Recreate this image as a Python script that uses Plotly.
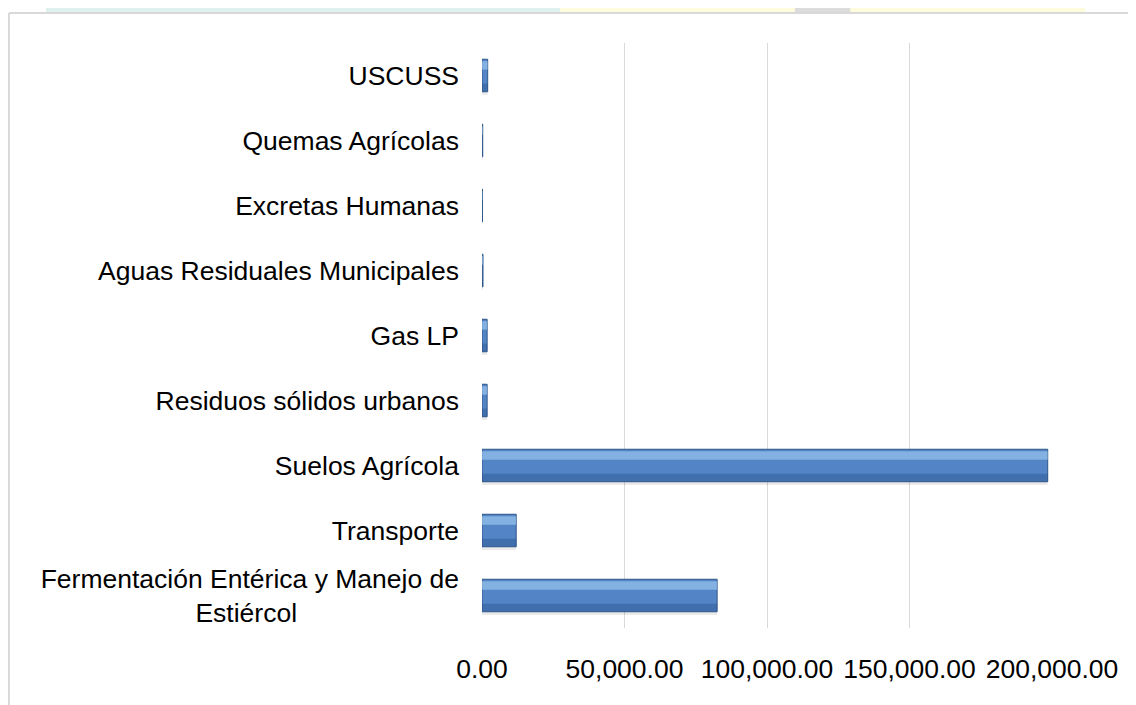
import plotly.graph_objects as go

# categories listed bottom to top, as drawn on the y axis
CATEGORIES = [
    "Fermentación Entérica y Manejo de<br>Estiércol" + "\u00a0" * 22,
    "Transporte",
    "Suelos Agrícola",
    "Residuos sólidos urbanos",
    "Gas LP",
    "Aguas Residuales Municipales",
    "Excretas Humanas",
    "Quemas Agrícolas",
    "USCUSS",
]
EMISSIONS = [82500, 12000, 198500, 1800, 1800, 350, 150, 250, 2000]
TICK_VALS = [0, 50000, 100000, 150000, 200000]

COLOR_BAR = "#5284c6"
COLOR_BAR_LINE = "#2f5688"
COLOR_HIGHLIGHT = "rgba(170, 215, 250, 0.55)"
COLOR_SHADE = "rgba(35, 70, 125, 0.35)"
COLOR_SHADOW = "rgba(0, 0, 0, 0.08)"
COLOR_GRID = "#d9d9d9"
FONT_FAMILY = "Liberation Sans, Arial"
FONT_SIZE = 26.5

fig = go.Figure()

# soft shadow under each bar
fig.add_trace(go.Bar(x=EMISSIONS, y=CATEGORIES, orientation="h",
                     width=0.05, offset=-0.3,
                     marker=dict(color=COLOR_SHADOW, line=dict(width=0)),
                     hoverinfo="skip"))
# main bar body
fig.add_trace(go.Bar(x=EMISSIONS, y=CATEGORIES, orientation="h",
                     width=0.5, offset=-0.25,
                     marker=dict(color=COLOR_BAR, line=dict(color=COLOR_BAR_LINE, width=1)),
                     hoverinfo="x+y"))
# light band in the upper part of each bar (bevel look)
fig.add_trace(go.Bar(x=EMISSIONS, y=CATEGORIES, orientation="h",
                     width=0.13, offset=0.09,
                     marker=dict(color=COLOR_HIGHLIGHT, line=dict(width=0)),
                     hoverinfo="skip"))
# darker band at the bottom
fig.add_trace(go.Bar(x=EMISSIONS, y=CATEGORIES, orientation="h",
                     width=0.12, offset=-0.245,
                     marker=dict(color=COLOR_SHADE, line=dict(width=0)),
                     hoverinfo="skip"))

# faint watermark strip above the chart frame and the frame itself
shapes = [
    dict(type="rect", xref="paper", yref="paper", x0=-0.765, x1=0.137, y0=1.0513, y1=1.07,
         fillcolor="#dff1ef", line=dict(width=0), layer="below"),
    dict(type="rect", xref="paper", yref="paper", x0=0.137, x1=1.058, y0=1.0513, y1=1.07,
         fillcolor="#fefcdc", line=dict(width=0), layer="below"),
    dict(type="rect", xref="paper", yref="paper", x0=0.549, x1=0.646, y0=1.0513, y1=1.07,
         fillcolor="#dcdcdc", line=dict(width=0), layer="below"),
    dict(type="line", xref="paper", yref="paper", x0=-0.8298, x1=1.2, y0=1.0513, y1=1.0513,
         line=dict(color=COLOR_GRID, width=2)),
    dict(type="line", xref="paper", yref="paper", x0=-0.8298, x1=-0.8298, y0=-0.2, y1=1.0513,
         line=dict(color=COLOR_GRID, width=2)),
]

fig.update_layout(
    width=1136, height=705,
    # the page adds an 8px body margin, so the plot area is pulled back by that much
    margin=dict(l=474, r=92, t=35, b=85, autoexpand=False),
    plot_bgcolor="white", paper_bgcolor="white",
    barmode="overlay",
    showlegend=False,
    font=dict(family=FONT_FAMILY, size=FONT_SIZE, color="black"),
    shapes=shapes,
    xaxis=dict(range=[0, 200000], tickvals=TICK_VALS, tickformat=",.2f",
               showgrid=True, gridcolor=COLOR_GRID, gridwidth=1,
               zeroline=False, showline=False, ticks="",
               automargin=False, ticklabelstandoff=22),
    yaxis=dict(type="category", categoryorder="array", categoryarray=CATEGORIES,
               showgrid=False, zeroline=False, showline=False, ticks="",
               automargin=False, ticklabelstandoff=22),
)

fig.write_html("out.html")
